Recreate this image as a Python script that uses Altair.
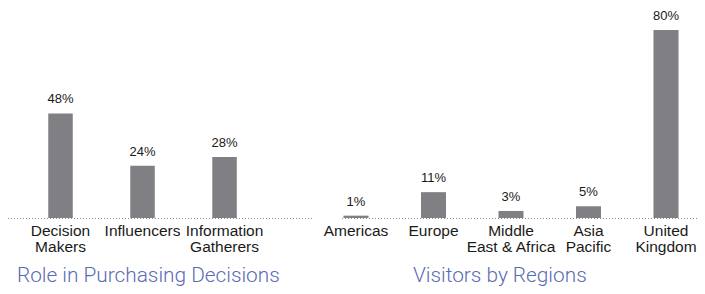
import altair as alt
import pandas as pd

left_cats = ["Decision\nMakers", "Influencers", "Information\nGatherers"]
left_vals = [48, 24, 28]
right_cats = ["Americas", "Europe", "Middle\nEast & Africa", "Asia\nPacific", "United\nKingdom"]
right_vals = [1, 11, 3, 5, 80]
left_title = "Role in Purchasing Decisions"
right_title = "Visitors by Regions"

BAR = "#808084"
TXT = "#1a1a1a"
TITLE = "#5a6bb3"
FONT = "Liberation Sans"
W, H = 689, 206


def panel(cats, vals, ymax, pad_inner, x_range):
    df = pd.DataFrame({"cat": cats, "val": vals, "lab": [f"{v}%" for v in vals]})
    xs = alt.X("cat:N", sort=cats, axis=None,
               scale=alt.Scale(paddingInner=pad_inner, paddingOuter=0, range=x_range))
    ys = alt.Y("val:Q", axis=None, scale=alt.Scale(domain=[0, ymax]))
    base = alt.Chart(df)
    bars = base.mark_bar(color=BAR).encode(x=xs, y=ys, y2=alt.datum(0))
    vals_t = base.mark_text(baseline="alphabetic", dy=-10, fontSize=13, font=FONT,
                            color=TXT).encode(x=xs, y=ys, text="lab:N")
    cat_t = base.mark_text(baseline="alphabetic", lineBreak="\n", fontSize=15.5, lineHeight=16,
                           font=FONT, color=TXT).encode(
        x=xs, y=alt.value(H + 17.7), text="cat:N")
    return alt.layer(bars, vals_t, cat_t)


def rule(x0, x1):
    return alt.Chart(pd.DataFrame({"a": [0]})).mark_rule(
        color="#8c8c8c", strokeDash=[1, 2], strokeWidth=1.2).encode(
        x=alt.value(x0), x2=alt.value(x1), y=alt.value(H + 0.5))


def title(text, x):
    return alt.Chart(pd.DataFrame({"t": [text]})).mark_text(
        align="left", baseline="alphabetic", fontSize=20.8, font="Roboto", fontWeight=300,
        color=TITLE).encode(x=alt.value(x), y=alt.value(H + 64), text="t:N")


left = panel(left_cats, left_vals, 94.6, 0.701, [40.25, 228.8])
right = panel(right_cats, right_vals, 87.7, 0.677, [335.5, 670.5])

chart = alt.layer(
    left, right,
    rule(0, 304), rule(334, W),
    title(left_title, 9), title(right_title, 405),
).resolve_scale(x="independent", y="independent").properties(
    width=W, height=H,
    autosize=alt.AutoSizeParams(type="none"),
    padding={"left": 0, "top": 4, "right": 0, "bottom": 68},
).configure(background="white").configure_view(strokeWidth=0)

chart.save("out.html", embed_options={"renderer": "svg", "actions": False})
